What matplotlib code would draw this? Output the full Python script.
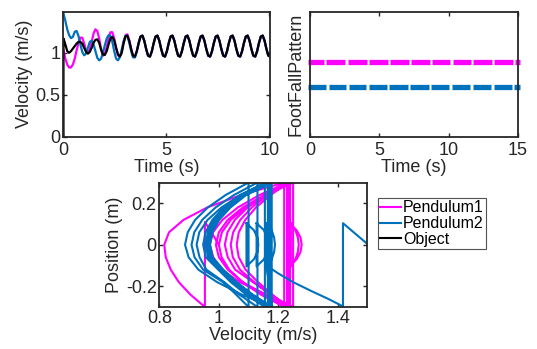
import numpy as np
import matplotlib
matplotlib.use("Agg")
import matplotlib.pyplot as plt

plt.rcParams['font.family'] = ['Liberation Sans', 'DejaVu Sans']

# ---------------- data ----------------
# velocity time series, sampled every 0.09125 s from t = 0
vel_dt = 0.09125
object_vel = [1.17, 1.10, 1.02, 1.00, 1.02, 1.05, 1.08, 1.11,
              1.13, 1.13, 1.11, 1.06, 1.01, 0.99, 1.01, 1.06,
              1.12, 1.155, 1.16, 1.12, 1.04, 0.98, 0.975, 1.02,
              1.10, 1.17, 1.19, 1.15, 1.06, 0.98, 0.955, 1.00,
              1.116, 1.194, 1.205, 1.143, 1.044, 0.966, 0.955, 1.017,
              1.116, 1.194, 1.205, 1.143, 1.044, 0.966, 0.955, 1.017,
              1.116, 1.194, 1.205, 1.143, 1.044, 0.966, 0.955, 1.017,
              1.116, 1.194, 1.205, 1.143, 1.044, 0.966, 0.955, 1.017,
              1.116, 1.194, 1.205, 1.143, 1.044, 0.966, 0.955, 1.017,
              1.116, 1.194, 1.205, 1.143, 1.044, 0.966, 0.955, 1.017,
              1.116, 1.194, 1.205, 1.143, 1.044, 0.966, 0.955, 1.017,
              1.116, 1.194, 1.205, 1.143, 1.044, 0.966, 0.955, 1.017,
              1.116, 1.194, 1.205, 1.143, 1.044, 0.966, 0.955, 1.017,
              1.116, 1.194, 1.205, 1.143, 1.044, 0.966, 0.955, 1.017]
pend1_vel_start = [1.03, 0.93, 0.86, 0.825, 0.825, 0.86, 0.93, 1.03,
                   1.12, 1.18, 1.18, 1.11, 1.03, 1.00, 1.04, 1.13,
                   1.23, 1.28, 1.26, 1.17, 1.04, 0.965, 0.98, 1.07,
                   1.18, 1.245, 1.245, 1.17, 1.06, 0.97, 0.955, 1.01,
                   1.12, 1.21, 1.22, 1.15, 1.05, 0.965, 0.95, 1.017]
pend2_vel_start = [1.47, 1.38, 1.28, 1.21, 1.175, 1.19, 1.25, 1.26,
                   1.20, 1.10, 1.01, 0.97, 0.99, 1.06, 1.13, 1.145,
                   1.10, 1.02, 0.94, 0.91, 0.93, 1.00, 1.09, 1.17,
                   1.21, 1.20, 1.13, 1.02, 0.93, 0.91, 0.95, 1.04,
                   1.14, 1.205, 1.20, 1.12, 1.02, 0.945, 0.945, 1.017]

# foot-fall pattern: stride boundaries (s) and plotted levels
foot_levels = {'Pendulum1': 3, 'Pendulum2': 2}
pend1_strikes = [0.0, 1.08, 2.62, 4.18, 5.70, 7.22, 8.72, 10.20, 11.70, 13.20, 14.70, 15.0]
pend2_strikes = [0.0, 1.25, 2.70, 4.16, 5.64, 7.15, 8.66, 10.15, 11.65, 13.15, 14.65, 15.0]

# phase portraits (velocity, position)
arc_pos = [-0.3, -0.24, -0.18, -0.12, -0.06, 0.0, 0.06, 0.12, 0.18, 0.24, 0.3]
pend1_start_vel = [1.00, 0.975, 0.953, 0.953]
pend1_start_pos = [0.0, 0.06, 0.11, -0.3]
pend1_arcs = [
    [0.953, 0.904, 0.865, 0.838, 0.821, 0.816, 0.832, 0.881, 0.961, 1.075, 1.22],
    [1.22, 1.141, 1.079, 1.035, 1.009, 1.00, 1.010, 1.040, 1.090, 1.160, 1.25],
    [1.25, 1.161, 1.070, 1.010, 0.981, 0.97, 0.980, 1.012, 1.064, 1.137, 1.23],
    [1.23, 1.153, 1.081, 1.030, 1.000, 0.99, 1.000, 1.030, 1.081, 1.153, 1.24],
    [1.24, 1.175, 1.115, 1.055, 1.030, 1.02, 1.029, 1.054, 1.097, 1.157, 1.235],
    [1.235, 1.174, 1.119, 1.071, 1.047, 1.04, 1.048, 1.072, 1.111, 1.165, 1.23],
    [1.23, 1.180, 1.132, 1.090, 1.067, 1.06, 1.067, 1.089, 1.125, 1.175, 1.232],
]
pend2_start_vel = [1.52, 1.418, 1.418, 1.37, 1.31, 1.25, 1.20, 1.16, 1.17, 1.18]
pend2_start_pos = [-0.02, 0.104, -0.297, -0.262, -0.222, -0.180, -0.138, -0.100, -0.2, -0.3]
pend2_arcs = [
    [1.18, 1.077, 0.994, 0.931, 0.898, 0.886, 0.895, 0.920, 0.963, 1.023, 1.10],
    [1.10, 1.058, 1.014, 0.947, 0.918, 0.908, 0.917, 0.944, 0.989, 1.051, 1.13],
    [1.13, 1.069, 1.018, 0.958, 0.935, 0.925, 0.934, 0.962, 1.009, 1.074, 1.155],
    [1.155, 1.092, 1.040, 0.998, 0.956, 0.947, 0.955, 0.978, 1.017, 1.071, 1.165],
    [1.165, 1.100, 1.045, 1.000, 0.964, 0.955, 0.963, 0.986, 1.024, 1.078, 1.17],
    [1.17, 1.105, 1.050, 1.005, 0.969, 0.960, 0.968, 0.991, 1.029, 1.082, 1.175],
    [1.175, 1.110, 1.056, 1.011, 0.975, 0.966, 0.974, 0.997, 1.035, 1.088, 1.178],
    [1.178, 1.114, 1.060, 1.015, 0.979, 0.970, 0.978, 1.001, 1.039, 1.092, 1.18],
]
# small closed "D" loops (velocity along the bulge; closed by a vertical)
loop_pos = [0.104, 0.07, 0.035, 0.0, -0.035, -0.07, -0.104, 0.104]
pend1_loops = [
    [1.234, 1.262, 1.275, 1.279, 1.275, 1.262, 1.234, 1.234],
    [1.242, 1.258, 1.266, 1.269, 1.266, 1.258, 1.242, 1.242],
]
pend2_loops = [
    [1.093, 1.118, 1.130, 1.133, 1.130, 1.118, 1.093, 1.093],
    [1.127, 1.152, 1.163, 1.166, 1.163, 1.152, 1.127, 1.127],
    [1.160, 1.178, 1.186, 1.189, 1.186, 1.178, 1.160, 1.160],
]

MAGENTA = '#FF00FF'
BLUE = '#0072BD'
AXCOL = '#262626'

fig = plt.figure(figsize=(5.37, 3.49), dpi=100)

def style(ax):
    for s in ax.spines.values():
        s.set_linewidth(1.3)
        s.set_color(AXCOL)
    ax.tick_params(direction='in', length=3, width=1.0, colors=AXCOL,
                   labelsize=13, top=True, right=True, pad=2)

# --- top-left: velocity vs time
ax1 = fig.add_axes([0.1182, 0.6083, 0.3855, 0.3582])
t_obj = [0.0] + [i * vel_dt for i in range(len(object_vel))]
v_obj = [0.0] + object_vel
n1 = len(pend1_vel_start)
n2 = len(pend2_vel_start)
t_p1 = [i * vel_dt for i in range(len(object_vel))]
v_p1 = pend1_vel_start + object_vel[n1:]
v_p2 = pend2_vel_start + object_vel[n2:]
ax1.plot(t_p1, v_p1, color=MAGENTA, lw=1.6)
ax1.plot(t_p1, v_p2, color=BLUE, lw=1.6)
ax1.plot(t_obj, v_obj, color='black', lw=1.6)
ax1.set_xlim(0, 10.05)
ax1.set_ylim(0, 1.49)
ax1.set_xticks([0, 5, 10])
ax1.set_yticks([0, 0.5, 1])
ax1.set_yticklabels(['0', '0.5', '1'])
ax1.set_xlabel('Time (s)', fontsize=13, color=AXCOL, labelpad=0)
ax1.set_ylabel('Velocity (m/s)', fontsize=13, color=AXCOL, labelpad=2)
style(ax1)
ax1.tick_params(axis='x', pad=3.5)

# --- top-right: foot-fall pattern
ax2 = fig.add_axes([0.5773, 0.6074, 0.3873, 0.3582])
gap = 0.09
for strikes, lvl, col in [(pend1_strikes, foot_levels['Pendulum1'], MAGENTA),
                          (pend2_strikes, foot_levels['Pendulum2'], BLUE)]:
    for k in range(len(strikes) - 1):
        a = strikes[k] + (gap if k > 0 else -0.12)
        b = strikes[k + 1] - (gap if k < len(strikes) - 2 else -0.12)
        ax2.plot([a, b], [lvl, lvl], color=col, lw=3.8,
                 solid_capstyle='butt', clip_on=False)
ax2.set_xlim(0, 15)
ax2.set_ylim(0, 5)
ax2.set_xticks([0, 5, 10, 15])
ax2.set_yticks([])
ax2.set_xlabel('Time (s)', fontsize=13, color=AXCOL, labelpad=0)
ax2.set_ylabel('FootFallPattern', fontsize=13, color=AXCOL, labelpad=4)
style(ax2)
ax2.tick_params(axis='x', pad=3.5)

# --- bottom: phase portrait
ax3 = fig.add_axes([0.2970, 0.1203, 0.3870, 0.3567])
def trajectory(start_v, start_p, arcs, loops):
    v = list(start_v)
    p = list(start_p)
    for arc in arcs:
        v += arc
        p += arc_pos
    for lp in loops:
        v += [np.nan] + lp
        p += [np.nan] + loop_pos
    return v, p
v1, p1 = trajectory(pend1_start_vel, pend1_start_pos, pend1_arcs, pend1_loops)
v2, p2 = trajectory(pend2_start_vel, pend2_start_pos, pend2_arcs, pend2_loops)
l1, = ax3.plot(v1, p1, color=MAGENTA, lw=1.5)
l2, = ax3.plot(v2, p2, color=BLUE, lw=1.5)
l3, = ax3.plot([], [], color='black', lw=1.5)
ax3.set_xlim(0.8, 1.5)
ax3.set_ylim(-0.3, 0.3)
ax3.set_xticks([0.8, 1.0, 1.2, 1.4])
ax3.set_xticklabels(['0.8', '1', '1.2', '1.4'])
ax3.set_yticks([-0.2, 0, 0.2])
ax3.set_yticklabels(['-0.2', '0', '0.2'])
ax3.set_xlabel('Velocity (m/s)', fontsize=13, color=AXCOL, labelpad=0)
ax3.set_ylabel('Position (m)', fontsize=13, color=AXCOL, labelpad=2)
style(ax3)

leg = fig.legend([l1, l2, l3], ['Pendulum1', 'Pendulum2', 'Object'],
                 loc='upper left', bbox_to_anchor=(0.7039, 0.4327),
                 fontsize=11.5, frameon=True, fancybox=False,
                 handlelength=1.3, handletextpad=0.1, borderpad=0.15,
                 labelspacing=0.05, borderaxespad=0)
leg.get_frame().set_edgecolor(AXCOL)
leg.get_frame().set_linewidth(0.8)

fig.savefig('out.png', dpi=100)
